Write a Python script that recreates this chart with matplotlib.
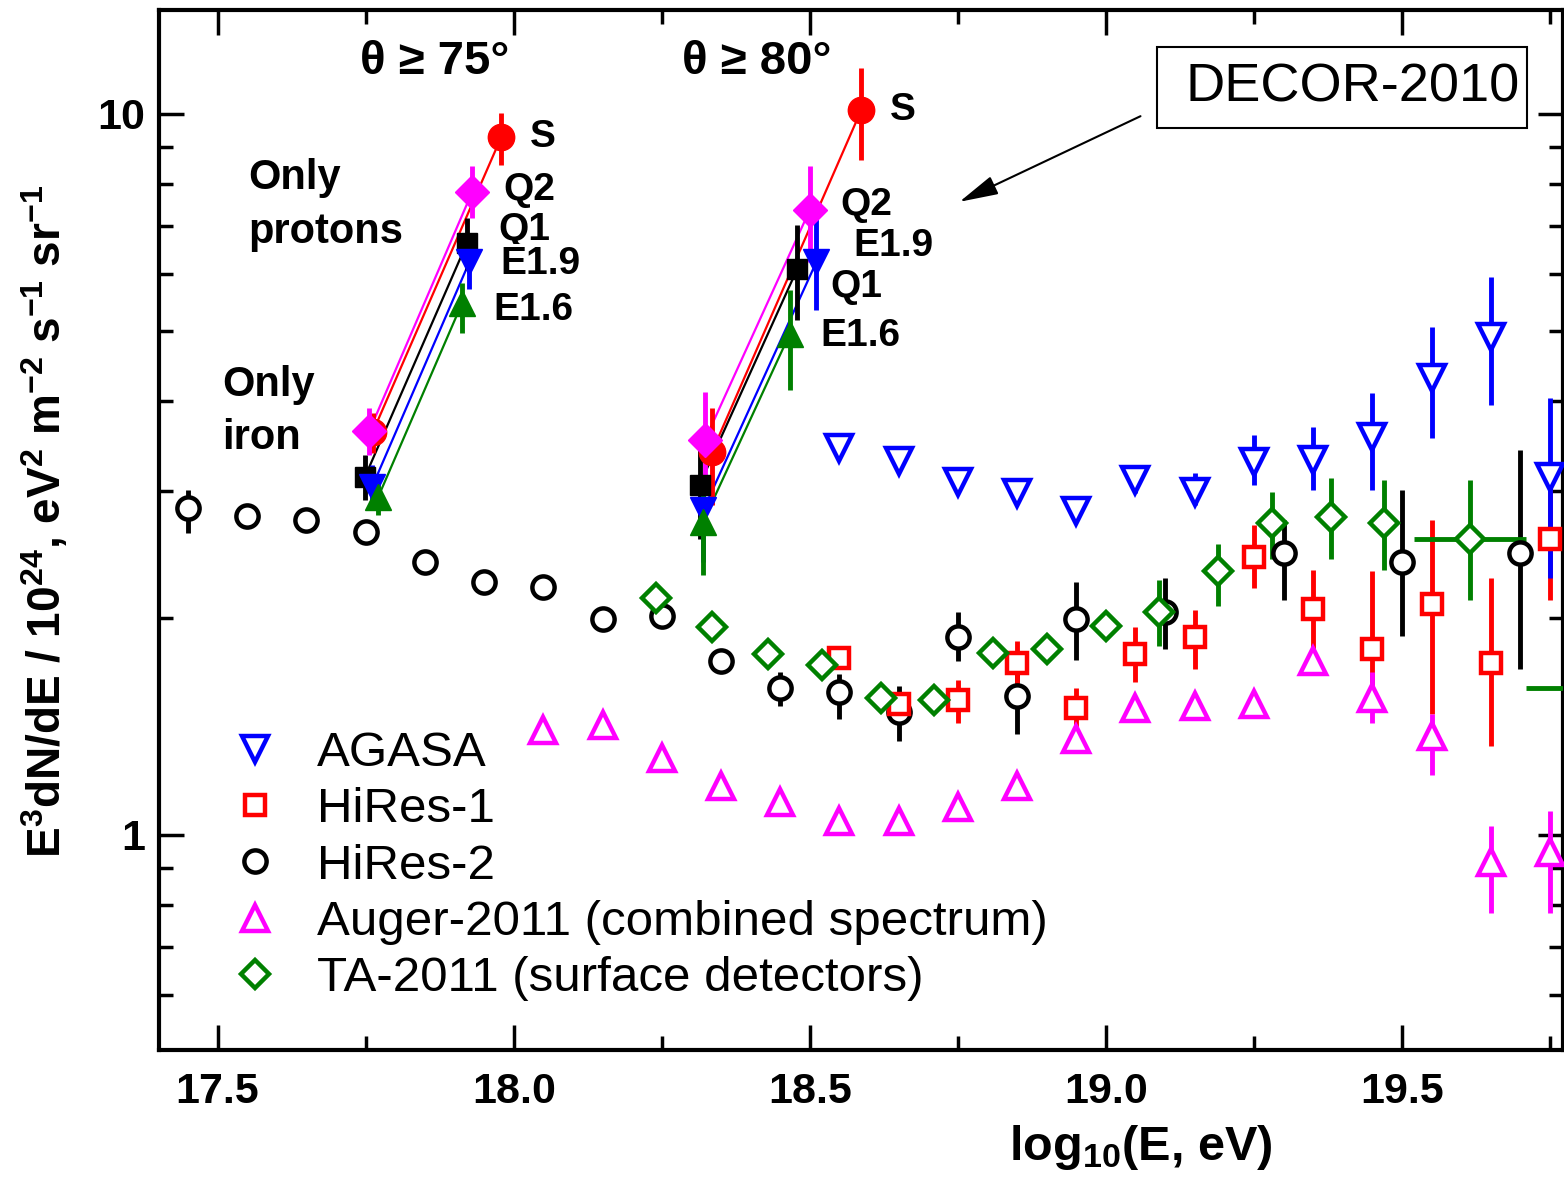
import matplotlib
matplotlib.use('Agg')
import matplotlib.pyplot as plt
import numpy as np
from matplotlib.ticker import MultipleLocator, LogLocator, NullFormatter
from matplotlib.lines import Line2D
from matplotlib.patches import Rectangle

# ---------------- data ----------------
agasa_x = [18.55, 18.65, 18.75, 18.85, 18.95, 19.05, 19.15, 19.25, 19.35, 19.45, 19.55, 19.65, 19.75]
agasa_y = [3.44, 3.30, 3.09, 2.98, 2.81, 3.11, 2.99, 3.29, 3.31, 3.56, 4.30, 4.91, 3.14]
agasa_hi = [3.44, 3.30, 3.09, 2.98, 2.81, 3.25, 3.18, 3.59, 3.68, 4.10, 5.07, 5.94, 4.04]
agasa_lo = [3.44, 3.30, 3.09, 2.98, 2.81, 2.98, 2.87, 3.06, 3.01, 3.01, 3.55, 3.95, 2.27]

hires1_x = [18.55, 18.65, 18.75, 18.85, 18.95, 19.05, 19.15, 19.25, 19.35, 19.45, 19.55, 19.65, 19.75]
hires1_y = [1.76, 1.52, 1.54, 1.73, 1.50, 1.78, 1.88, 2.43, 2.06, 1.81, 2.09, 1.73, 2.57]
hires1_hi = [1.82, 1.56, 1.64, 1.86, 1.60, 1.94, 2.05, 2.69, 2.33, 2.32, 2.73, 2.27, 3.21]
hires1_lo = [1.70, 1.47, 1.43, 1.59, 1.40, 1.63, 1.70, 2.20, 1.75, 1.54, 1.47, 1.33, 2.12]

hires2_x = [17.45, 17.55, 17.65, 17.75, 17.85, 17.95, 18.05, 18.15, 18.25, 18.35,
            18.45, 18.55, 18.65, 18.75, 18.85, 18.95, 19.1, 19.3, 19.5, 19.7]
hires2_y = [2.84, 2.77, 2.73, 2.63, 2.39, 2.24, 2.21, 1.99, 2.01, 1.74,
            1.60, 1.58, 1.48, 1.88, 1.56, 1.99, 2.04, 2.46, 2.39, 2.46]
hires2_hi = [3.01, 2.77, 2.73, 2.63, 2.39, 2.24, 2.21, 1.99, 2.01, 1.74,
             1.68, 1.67, 1.61, 2.04, 1.68, 2.24, 2.27, 2.73, 3.01, 3.42]
hires2_lo = [2.62, 2.77, 2.73, 2.63, 2.39, 2.24, 2.21, 1.99, 2.01, 1.74,
             1.51, 1.45, 1.35, 1.74, 1.38, 1.75, 1.81, 2.12, 1.89, 1.70]

auger_x = [18.05, 18.15, 18.25, 18.35, 18.45, 18.55, 18.65, 18.75, 18.85, 18.95,
           19.05, 19.15, 19.25, 19.35, 19.45, 19.55, 19.65, 19.75]
auger_y = [1.40, 1.42, 1.28, 1.17, 1.11, 1.045, 1.045, 1.093, 1.17, 1.36,
           1.50, 1.51, 1.52, 1.74, 1.55, 1.37, 0.917, 0.947]
auger_hi = [1.40, 1.42, 1.28, 1.17, 1.11, 1.045, 1.045, 1.093, 1.17, 1.36,
            1.50, 1.51, 1.52, 1.74, 1.68, 1.47, 1.03, 1.08]
auger_lo = [1.40, 1.42, 1.28, 1.17, 1.11, 1.045, 1.045, 1.093, 1.17, 1.36,
            1.50, 1.51, 1.52, 1.74, 1.43, 1.21, 0.78, 0.78]

ta_x = [18.24, 18.335, 18.43, 18.52, 18.62, 18.71, 18.81, 18.90, 19.00, 19.09,
        19.19, 19.28, 19.38, 19.47, 19.615, 19.85]
ta_y = [2.13, 1.94, 1.78, 1.72, 1.55, 1.54, 1.79, 1.81, 1.95, 2.04,
        2.32, 2.71, 2.76, 2.71, 2.57, 1.60]
ta_hi = [2.13, 1.94, 1.78, 1.72, 1.55, 1.54, 1.79, 1.81, 1.95, 2.26,
         2.53, 2.99, 3.13, 3.11, 3.11, 1.60]
ta_lo = [2.13, 1.94, 1.78, 1.72, 1.55, 1.54, 1.79, 1.81, 1.95, 1.83,
         2.08, 2.41, 2.41, 2.33, 2.12, 1.60]
ta_xerr = [0, 0, 0, 0, 0, 0, 0, 0, 0, 0, 0, 0, 0, 0, 0.095, 0.14]

# DECOR-2010 (order: S, Q2, Q1, E1.9, E1.6)
decor_labels = ['S', 'Q2', 'Q1', 'E1.9', 'E1.6']
g75_iron_x = [17.762, 17.756, 17.749, 17.761, 17.771]
g75_iron_y = [3.62, 3.63, 3.14, 3.04, 2.94]
g75_iron_hi = [3.85, 3.91, 3.37, 3.26, 3.11]
g75_iron_lo = [3.39, 3.37, 2.91, 2.82, 2.78]
g75_prot_x = [17.979, 17.930, 17.921, 17.925, 17.913]
g75_prot_y = [9.29, 7.80, 6.62, 6.23, 5.47]
g75_prot_hi = [10.03, 8.47, 7.17, 6.48, 5.83]
g75_prot_lo = [8.50, 7.17, 6.08, 5.71, 4.97]

g80_iron_x = [18.335, 18.323, 18.314, 18.320, 18.320]
g80_iron_y = [3.40, 3.53, 3.06, 2.82, 2.72]
g80_iron_hi = [3.91, 4.12, 3.52, 3.16, 3.01]
g80_iron_lo = [2.87, 3.01, 2.57, 2.39, 2.29]
g80_prot_x = [18.587, 18.500, 18.479, 18.511, 18.466]
g80_prot_y = [10.13, 7.36, 6.10, 6.23, 4.95]
g80_prot_hi = [11.58, 8.47, 7.02, 7.31, 5.70]
g80_prot_lo = [8.64, 6.23, 5.18, 5.35, 4.14]

x_ticks = [17.5, 18.0, 18.5, 19.0, 19.5]
x_ticklabels = ['17.5', '18.0', '18.5', '19.0', '19.5']
y_ticks = [1, 10]
y_ticklabels = ['1', '10']

# ---------------- style ----------------
FONT = ['Liberation Sans', 'DejaVu Sans']
plt.rcParams['font.family'] = FONT
plt.rcParams['mathtext.fontset'] = 'custom'
plt.rcParams['mathtext.rm'] = 'Liberation Sans:bold'
plt.rcParams['mathtext.it'] = 'Liberation Sans:bold'
plt.rcParams['mathtext.bf'] = 'Liberation Sans:bold'
plt.rcParams['mathtext.default'] = 'rm'

GREEN = '#008000'
decor_colors = ['#ff0000', '#ff00ff', '#000000', '#0000ff', GREEN]
decor_markers = ['o', 'D', 's', 'v', '^']
decor_ms = [19, 17, 15, 19, 19]

fig = plt.figure(figsize=(15.64, 11.88), dpi=100)
W, H = 1564.0, 1188.0
ax = fig.add_axes([159 / W, 1 - 1050 / H, (1563 - 159) / W, 1040 / H])
ax.set_yscale('log')
ax.set_xlim(17.401, 19.772)
ax.set_ylim(0.503, 13.94)


def asym(y, lo, hi):
    y = np.asarray(y); lo = np.asarray(lo); hi = np.asarray(hi)
    return [y - lo, hi - y]


EB_LW = 3.5
# ---- DECOR connecting lines ----
for groups in [(g75_iron_x, g75_iron_y, g75_prot_x, g75_prot_y),
               (g80_iron_x, g80_iron_y, g80_prot_x, g80_prot_y)]:
    ix, iy, px, py = groups
    for i in range(5):
        ax.plot([ix[i], px[i]], [iy[i], py[i]], color=decor_colors[i], lw=1.6, zorder=3)

# ---- reference data ----
open_kw = dict(ls='none', elinewidth=EB_LW, capsize=0, mew=3.2, mfc='white', zorder=4)
ax.errorbar(hires2_x, hires2_y, yerr=asym(hires2_y, hires2_lo, hires2_hi), fmt='o',
            color='black', ms=16, **open_kw)
ax.errorbar(hires1_x, hires1_y, yerr=asym(hires1_y, hires1_lo, hires1_hi), fmt='s',
            color='#ff0000', ms=15, **open_kw)
ax.errorbar(auger_x, auger_y, yerr=asym(auger_y, auger_lo, auger_hi), fmt='^',
            color='#ff00ff', ms=19, **open_kw)
ax.errorbar(ta_x, ta_y, yerr=asym(ta_y, ta_lo, ta_hi), xerr=ta_xerr, fmt='D',
            color=GREEN, ms=14, **open_kw)
ax.errorbar(agasa_x, agasa_y, yerr=asym(agasa_y, agasa_lo, agasa_hi), fmt='v',
            color='#0000ff', ms=19, **open_kw)

# ---- DECOR points ----
for (xs, ys, los, his) in [(g75_iron_x, g75_iron_y, g75_iron_lo, g75_iron_hi),
                           (g75_prot_x, g75_prot_y, g75_prot_lo, g75_prot_hi),
                           (g80_iron_x, g80_iron_y, g80_iron_lo, g80_iron_hi),
                           (g80_prot_x, g80_prot_y, g80_prot_lo, g80_prot_hi)]:
    order = [2, 3, 4, 0, 1]
    for i in order:
        ax.errorbar([xs[i]], [ys[i]], yerr=asym([ys[i]], [los[i]], [his[i]]),
                    fmt=decor_markers[i], color=decor_colors[i], ms=decor_ms[i],
                    mec=decor_colors[i], mfc=decor_colors[i], elinewidth=EB_LW,
                    capsize=0, zorder=5)

# ---------------- axes styling ----------------
for s in ax.spines.values():
    s.set_linewidth(3)
ax.set_xticks(x_ticks)
ax.set_xticklabels(x_ticklabels)
ax.xaxis.set_minor_locator(MultipleLocator(0.25))
ax.set_yticks(y_ticks)
ax.set_yticklabels(y_ticklabels)
ax.yaxis.set_minor_locator(LogLocator(base=10, subs=np.arange(2, 10)))
ax.yaxis.set_minor_formatter(NullFormatter())
ax.tick_params(which='both', direction='in', top=True, right=True, width=2.5)
ax.tick_params(which='major', length=18, labelsize=31, pad=16)
ax.tick_params(which='minor', length=10)
for lab in ax.get_xticklabels() + ax.get_yticklabels():
    lab.set_fontweight('bold')
ax.tick_params(axis='y', pad=10)

ax.set_ylabel(r'E$^{3}$dN/dE / 10$^{24}$, eV$^{2}$ m$^{-2}$ s$^{-1}$ sr$^{-1}$',
              fontsize=33, fontweight='bold')
ax.yaxis.set_label_coords(-0.063, 0.508)
ax.set_xlabel(r'log$_{10}$(E, eV)', fontsize=35, fontweight='bold')
ax.xaxis.set_label_coords(0.699, -0.07)

# ---------------- legend ----------------
handles = [
    Line2D([], [], ls='none', marker='v', ms=19, mec='#0000ff', mfc='white', mew=3.2),
    Line2D([], [], ls='none', marker='s', ms=15, mec='#ff0000', mfc='white', mew=3.2),
    Line2D([], [], ls='none', marker='o', ms=16, mec='black', mfc='white', mew=3.2),
    Line2D([], [], ls='none', marker='^', ms=19, mec='#ff00ff', mfc='white', mew=3.2),
    Line2D([], [], ls='none', marker='D', ms=14, mec=GREEN, mfc='white', mew=3.2),
]
leg_labels = ['AGASA', 'HiRes-1', 'HiRes-2', 'Auger-2011 (combined spectrum)',
              'TA-2011 (surface detectors)']
fig.legend(handles, leg_labels, loc='upper left', bbox_to_anchor=(230 / W, 1 - 731 / H),
           frameon=False, fontsize=35.5, handlelength=1.0, handletextpad=0.76,
           labelspacing=0.23, borderpad=0, borderaxespad=0)

# ---------------- annotations ----------------
def ftext(px, py, s, **kw):
    return fig.text(px / W, 1 - py / H, s, **kw)

ftext(435, 62, 'θ ≥ 75°', ha='center', va='center', fontsize=34, fontweight='bold')
ftext(757, 62, 'θ ≥ 80°', ha='center', va='center', fontsize=34, fontweight='bold')
ftext(248, 178, 'Only', ha='left', va='center', fontsize=30, fontweight='bold')
ftext(248, 232, 'protons', ha='left', va='center', fontsize=30, fontweight='bold')
ftext(222, 385, 'Only', ha='left', va='center', fontsize=30, fontweight='bold')
ftext(222, 438, 'iron', ha='left', va='center', fontsize=30, fontweight='bold')

lab_kw = dict(ha='left', va='center', fontsize=28, fontweight='bold')
ftext(530, 137, 'S', **lab_kw)
ftext(503, 190, 'Q2', **lab_kw)
ftext(498, 230, 'Q1', **lab_kw)
ftext(500, 264, 'E1.9', bbox=dict(facecolor='white', edgecolor='none', pad=1), **lab_kw)
ftext(493, 310, 'E1.6', **lab_kw)
ftext(890, 110, 'S', **lab_kw)
ftext(840, 205, 'Q2', **lab_kw)
ftext(853, 246, 'E1.9', **lab_kw)
ftext(830, 287, 'Q1', **lab_kw)
ftext(820, 336, 'E1.6', **lab_kw)

fig.patches.append(Rectangle((1157 / W, 1 - 128 / H), 370 / W, 81 / H, fill=False,
                             lw=1.5, edgecolor='black', transform=fig.transFigure))
ftext(1353, 88, 'DECOR-2010', ha='center', va='center', fontsize=39)
fig.add_artist(matplotlib.patches.FancyArrowPatch(
    (1143 / W, 1 - 115 / H), (957 / W, 1 - 203 / H), transform=fig.transFigure,
    arrowstyle='-|>,head_length=1.2,head_width=0.3', mutation_scale=20,
    lw=1.5, color='black'))

fig.savefig('out.png', dpi=100)
